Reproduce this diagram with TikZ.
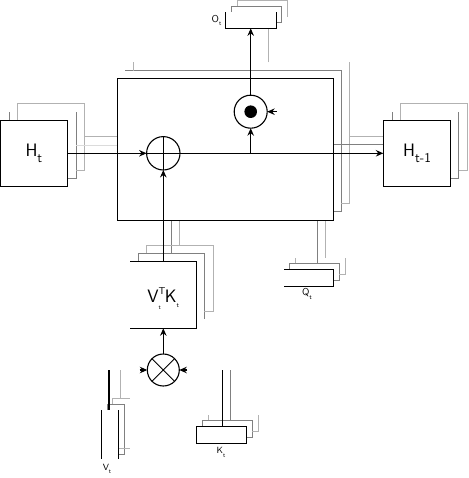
\documentclass[tikz,border=0pt]{standalone}
\usepackage{fontspec}
\usetikzlibrary{arrows.meta}
\newcommand{\mysub}[2][12.5]{\raisebox{-0.36em}{\fontsize{#1}{#1}\selectfont #2}}
\begin{document}
\begin{tikzpicture}[x=1pt,y=-1pt,font=\sffamily,
  blk/.style={line width=1.1pt, black},
  dg/.style={line width=0.9pt, black!50},
  lg/.style={line width=0.9pt, black!30},
  vlg/.style={line width=0.9pt, black!14},
  arr/.style={blk, -{Stealth[length=7.5pt,width=6.5pt,inset=2.5pt]}},
  boxnode/.style={draw=none, inner sep=0pt, outer sep=0pt},
  fullbox/.style={draw, line width=1.1pt, inner sep=0pt, outer sep=0pt},
  circ/.style={circle, draw, line width=1.1pt, inner sep=0pt, outer sep=0pt},
  big/.style={font=\sffamily\fontsize{18}{20}\selectfont},
  small/.style={font=\sffamily\fontsize{10}{11}\selectfont}]
\useasboundingbox (0,0) rectangle (468,478);

% ---------- grey shadow copies ----------
% H_t
\draw[dg] (9.5,120) -- (9.5,112);
\draw[dg] (67.7,178.5) -- (76,178.5) -- (76,112);
\draw[lg] (17.3,120) -- (17.3,103.7) -- (84.3,103.7) -- (84.3,170.7) -- (76,170.7);
\draw[lg] (84.3,136.3) -- (117.3,136.3);
\draw[vlg] (76,145.3) -- (117.3,145.3);
% main box
\draw[dg] (125.3,70.7) -- (341.3,70.7) -- (341.3,211.3) -- (333.7,211.3);
\draw[lg] (133.3,62.3) -- (133.3,70.7);
\draw[lg] (349.3,62.3) -- (349.3,203.3) -- (341.3,203.3);
\draw[dg] (333.7,144.7) -- (383.3,144.7);
\draw[lg] (349.3,136.7) -- (383.3,136.7);
\draw[lg] (268.3,62.3) -- (268.3,28.3);
\draw[dg] (171.3,220.3) -- (171.3,253.3);
\draw[lg] (179.3,220.3) -- (179.3,245.3);
\draw[dg] (317.5,220.3) -- (317.5,263.3);
\draw[lg] (325.5,220.3) -- (325.5,258);
% H_{t-1}
\draw[dg] (392.3,120.3) -- (392.3,112);
\draw[dg] (450.7,178.3) -- (458.7,178.3) -- (458.7,112);
\draw[lg] (400.7,120.3) -- (400.7,103.7) -- (467.3,103.7) -- (467.3,170.3) -- (458.7,170.3);
% O_t
\draw[dg] (231.7,12) -- (231.7,6) -- (281.7,6) -- (281.7,22) -- (276.5,22);
\draw[lg] (237.3,6) -- (237.3,0.6) -- (287.7,0.6) -- (287.7,16.7);
% V^T K
\draw[dg] (138.3,261.3) -- (138.3,253.3) -- (204.3,253.3) -- (204.3,319.3);
\draw[lg] (146.3,253.3) -- (146.3,245.3) -- (213.7,245.3) -- (213.7,311) -- (204.3,311);
% Q_t
\draw[dg] (289.3,269.3) -- (289.3,263.3) -- (339.3,263.3) -- (339.3,280.7) -- (333.3,280.7);
\draw[lg] (295.3,263.3) -- (295.3,258);
\draw[lg] (345.7,258) -- (345.7,274.3) -- (339.3,274.3);
% V_t
\draw[dg] (107.3,410) -- (107.3,404) -- (124.3,404) -- (124.3,454.3) -- (118.3,454.3);
\draw[lg] (120.7,370) -- (120.7,398.3);
\draw[lg] (112.7,404) -- (112.7,398.3) -- (130,398.3);
\draw[lg] (119.3,448.3) -- (130,448.3);
% K_t
\draw[dg] (230.3,370) -- (230.3,420.3);
\draw[dg] (202.3,426.3) -- (202.3,420.3) -- (252.3,420.3) -- (252.3,437.3) -- (246.3,437.3);
\draw[lg] (208.3,420.3) -- (208.3,415);
\draw[lg] (258.3,415) -- (258.3,431) -- (252.3,431);

% ---------- black nodes ----------
\node[fullbox, minimum width=67.7pt, minimum height=66pt, big] (ht) at (33.9,153.3) {H\mysub[13.5]{t}};
\node[fullbox, minimum width=67.4pt, minimum height=66pt, big] (ht1) at (417,153.3) {H\mysub[13.5]{t-1}};
\node[fullbox, minimum width=216.4pt, minimum height=141.6pt] (main) at (225.5,149.5) {};
\node[circ, minimum size=33.4pt] (oplus) at (163.3,153.3) {};
\node[circ, minimum size=33pt] (odot) at (250.7,111.7) {};
\node[circ, minimum size=32pt] (otimes) at (163.3,370) {};
\node[boxnode, minimum width=51pt, minimum height=16.3pt] (ot) at (251,20.2) {};
\node[boxnode, minimum width=66.3pt, minimum height=67pt] (vk) at (163.2,294.8) {};
\node[boxnode, minimum width=49.3pt, minimum height=17pt] (qt) at (308.7,277.8) {};
\node[boxnode, minimum width=16.6pt, minimum height=49.3pt] (vt) at (110,434.7) {};
\node[fullbox, minimum width=50.3pt, minimum height=17pt] (kt) at (221.2,434.8) {};

% open boxes
\draw[blk] (ot.north west) -- (ot.south west) -- (ot.south east) -- (ot.north east);
\draw[blk] (vk.north west) -- (vk.north east) -- (vk.south east) -- (vk.south west);
\draw[blk] (qt.north west) -- (qt.north east) -- (qt.south east) -- (qt.south west);
\draw[blk] (vt.north west) -- (vt.south west) (vt.north east) -- (vt.south east);

% circle contents
\draw[blk] (oplus.north) -- (oplus.south) (oplus.west) -- (oplus.east);
\fill (odot.center) circle (6.3);
\draw[line width=0.9pt] (otimes.north west) -- (otimes.south east) (otimes.north east) -- (otimes.south west);

% labels
\node[big, inner sep=0pt] (vklab) at (163.3,298.5) {V\rlap{\raisebox{0.45em}{\fontsize{10}{10}\selectfont T}}\raisebox{-0.42em}{\fontsize{6}{6}\selectfont t}\hspace{4pt}K\raisebox{-0.3em}{\fontsize{6.5}{7}\selectfont t}};
\node[small, inner sep=0pt] (otlab) at (216.5,20.5) {O\mysub[6]{t}};
\node[small, inner sep=0pt] (qtlab) at (307,294) {Q\mysub[6.5]{t}};
\node[small, inner sep=0pt, font=\sffamily\fontsize{9}{10}\selectfont] (vtlab) at (107,469) {V\mysub[6]{t}};
\node[small, inner sep=0pt, font=\sffamily\fontsize{9}{10}\selectfont] (ktlab) at (221,452.5) {K\mysub[6]{t}};

% connectors
\draw[arr] (ht.east) -- (oplus.west);
\draw[arr] (oplus.east) -- (ht1.west);
\coordinate (jn) at (odot.south |- ht.east);
\draw[arr] (jn) -- (odot.south);
\draw[arr] (odot.north) -- (ot.south -| odot.north);
\coordinate (odr) at (276.5,111.7);
\draw[arr] (odr) -- (odot.east);
\draw[arr] (vk.north -| oplus.south) -- (oplus.south);
\draw[arr] (otimes.north) -- (vk.south -| otimes.north);
\coordinate (otl) at (139.5,370);
\coordinate (otr) at (187.3,370);
\draw[arr] (otl) -- (otimes.west);
\draw[arr] (otr) -- (otimes.east);
\coordinate (vtop) at (109,370);
\draw[blk] (vtop) -- (vtop |- vt.north);
\coordinate (ktop) at (222.3,370);
\draw[blk] (ktop) -- (ktop |- kt.north);
\end{tikzpicture}
\end{document}
